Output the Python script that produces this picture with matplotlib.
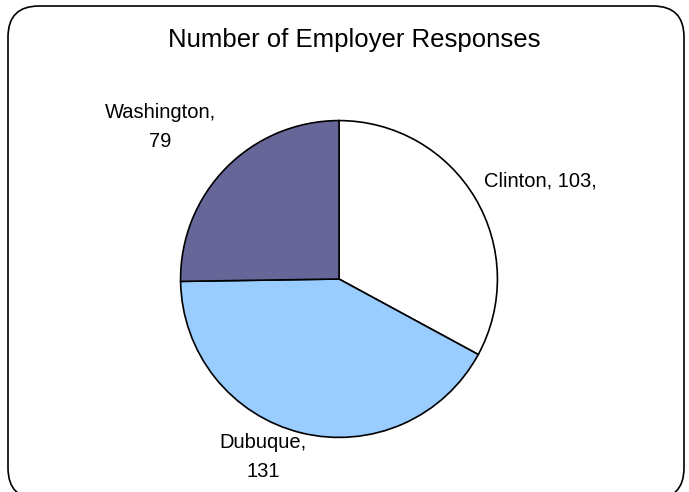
import matplotlib
matplotlib.use("Agg")
import matplotlib.pyplot as plt
from matplotlib.patches import FancyBboxPatch

# data
names = ["Clinton", "Dubuque", "Washington"]
counts = [103, 131, 79]
colors = ["#FFFFFF", "#99CCFF", "#666699"]

W, H = 689, 492
plt.rcParams['font.family'] = ['Liberation Sans', 'DejaVu Sans']

fig = plt.figure(figsize=(W / 100, H / 100), dpi=100)

# rounded frame around the chart area
frame = FancyBboxPatch((8 / W, 1 - 499 / H), 676 / W, 493 / H,
                       boxstyle="round,pad=0,rounding_size=0.045",
                       transform=fig.transFigure, facecolor="white",
                       edgecolor="black", linewidth=1.2, mutation_aspect=W / H,
                       zorder=-5)
fig.patches.append(frame)

# pie axes, centre (339, 279) px, radius 160 px
cx, cy, r = 339, 279, 160
ax = fig.add_axes([(cx - r) / W, 1 - (cy + r) / H, 2 * r / W, 2 * r / H])
ax.patch.set_visible(False)
ax.pie(counts, colors=colors, startangle=90, counterclock=False,
       wedgeprops=dict(edgecolor="black", linewidth=1.2), radius=1)
ax.set_xlim(-1.01, 1.01)
ax.set_ylim(-1.01, 1.01)
ax.set_aspect("equal")
ax.axis("off")

fig.text(354 / W, 1 - 40 / H, "Number of Employer Responses",
         ha="center", va="center", fontsize=18.5)

label_pos = {"Clinton": (540, 181), "Dubuque": (263, 457), "Washington": (160, 127)}
for n, c in zip(names, counts):
    x, y = label_pos[n]
    if n == "Clinton":
        s = f"{n}, {c},"
    else:
        s = f"{n},\n{c}"
    fig.text(x / W, 1 - y / H, s, ha="center", va="center", fontsize=14.5,
             linespacing=1.65)

fig.savefig("out.png", dpi=100)
